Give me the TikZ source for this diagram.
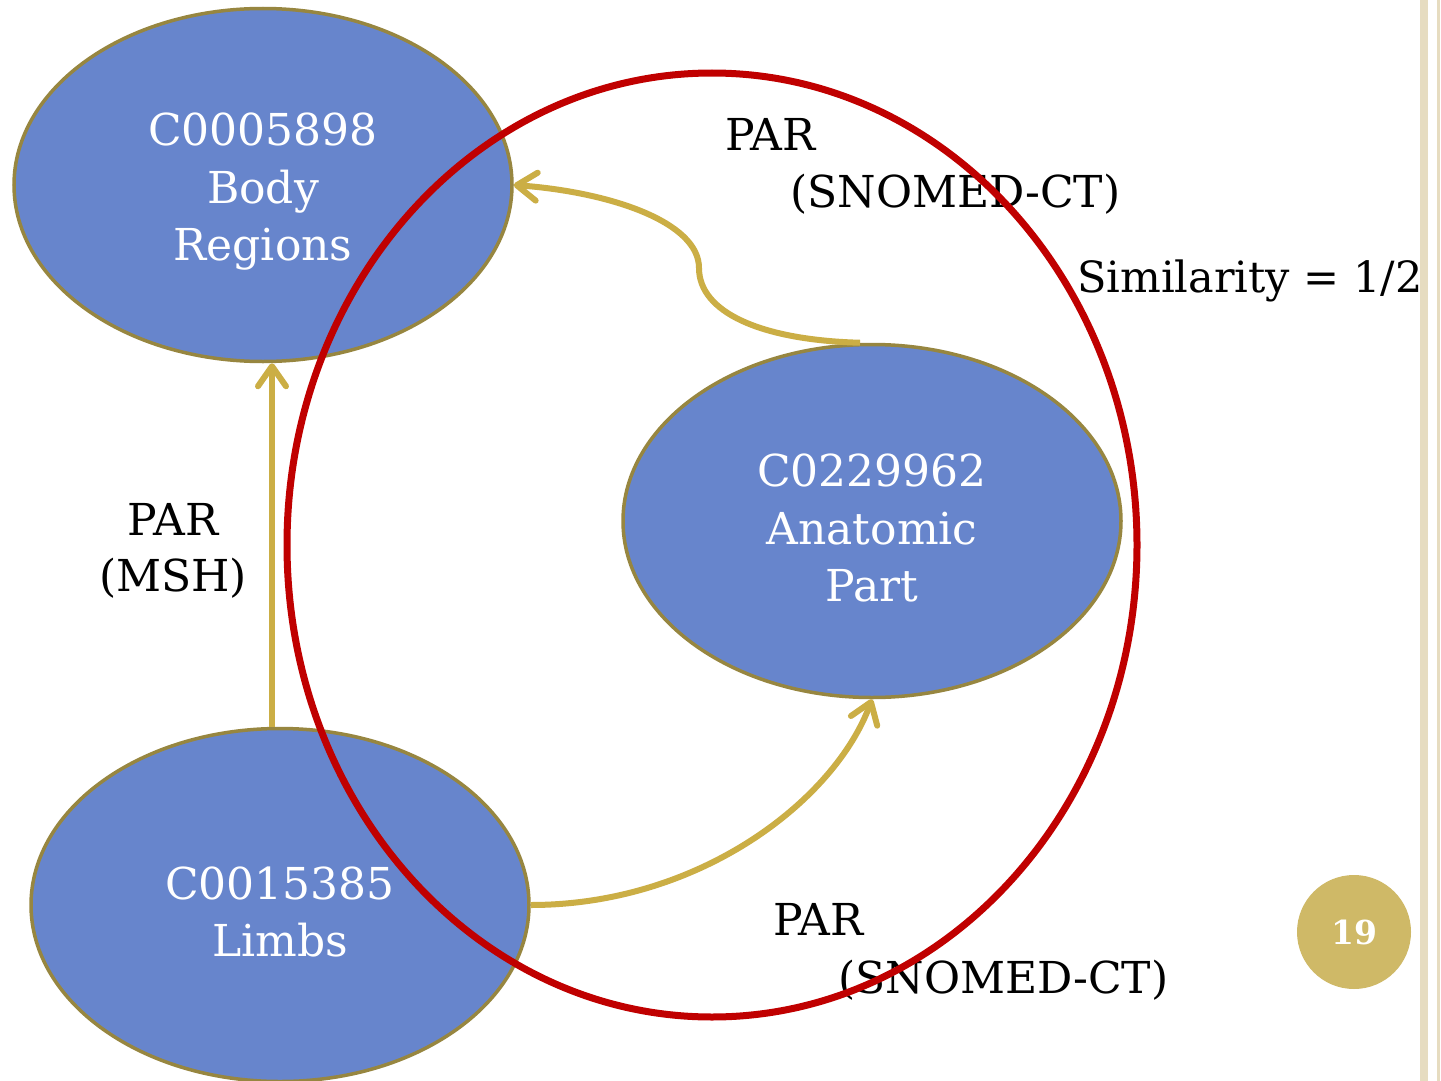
\documentclass[tikz,border=0pt]{standalone}
\usepackage{fontspec}
\setmainfont{DejaVu Serif}
\usetikzlibrary{shapes.geometric,arrows.meta}
\definecolor{nodeblue}{HTML}{6785CC}
\definecolor{nodeedge}{HTML}{978640}
\definecolor{gold}{HTML}{CBAE45}
\definecolor{ringred}{HTML}{C00000}
\definecolor{pagegold}{HTML}{CFB967}
\definecolor{barbeige}{HTML}{E6DCC0}
\tikzset{
  concept/.style={ellipse, draw=nodeedge, line width=3.5pt, fill=nodeblue,
    minimum width=498pt, minimum height=353pt, inner sep=0pt},
  ctext/.style={text=white, align=center, inner sep=0pt, yshift=-7pt,
    font=\fontsize{44}{57.5}\selectfont},
  rel/.style={draw=gold, line width=6pt,
    -{Straight Barb[length=20pt,width=28pt,line width=6pt,round]}},
  lbl/.style={text=black, inner sep=0pt, font=\fontsize{44}{57}\selectfont},
}
\begin{document}
\begin{tikzpicture}[x=1pt,y=-1pt]
\useasboundingbox (0,0) rectangle (1441,1081);
\fill[white] (0,0) rectangle (1441,1081);
% right-side decoration bars
\fill[barbeige] (1420,0) rectangle (1428,1081);
\fill[barbeige] (1437,0) rectangle (1440,1081);
% concept nodes
\node[concept, label={[ctext]center:C0005898\\Body\\Regions}] (body) at (263,185) {};
\node[concept, label={[ctext]center:C0229962\\Anatomic\\Part}] (anat) at (872,521) {};
\node[concept, label={[ctext]center:C0015385\\Limbs}] (limbs) at (280,905) {};
% relations
\draw[rel] (limbs.north -| 272,0) -- (body.south -| 272,0);
\draw[rel] (anat.north) ++(-12,0) .. controls (760,340) and (699,312) .. (699,268)
   .. controls (699,222) and (610,192) .. (body.east);
\draw[rel] (limbs.east) .. controls (700,905) and (835,800) .. (anat.south);
% labels
\node[lbl, anchor=base west] (parT) at (725,150) {PAR};
\node[lbl, anchor=base west] (snoT) at (790,207) {(SNOMED-CT)};
\node[lbl, anchor=base west, font=\fontsize{43}{57}\selectfont] (sim) at (1077,292) {Similarity = 1/2};
\node[lbl, anchor=base] (parM) at (173,535) {PAR};
\node[lbl, anchor=base] (msh) at (173,591) {(MSH)};
\node[lbl, anchor=base west] (parB) at (773,935) {PAR};
\node[lbl, anchor=base west] (snoB) at (838,993) {(SNOMED-CT)};
% red ring
\draw[ringred, line width=7pt] (712,545) ellipse [x radius=425, y radius=472];
% page number
\node[circle, fill=pagegold, minimum size=114pt, inner sep=0pt, text=white,
  font=\fontsize{33}{38}\selectfont\bfseries] (page) at (1354,932) {19};
\end{tikzpicture}
\end{document}
